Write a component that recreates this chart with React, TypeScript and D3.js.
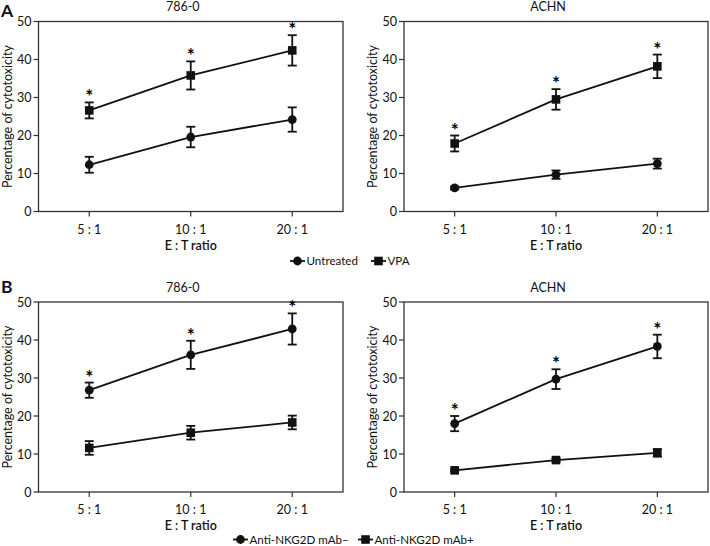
import React from "react";
import * as d3 from "d3";

const ratios = ["5 : 1", "10 : 1", "20 : 1"];
const yTicks = [0, 10, 20, 30, 40, 50];

// Panel A, 786-0
const a786Untreated = [12.3, 19.6, 24.2];
const a786UntreatedErr = [2.1, 2.7, 3.2];
const a786VPA = [26.6, 35.8, 42.4];
const a786VPAErr = [2.1, 3.7, 4.0];
// Panel A, ACHN
const aAchnUntreated = [6.2, 9.7, 12.6];
const aAchnUntreatedErr = [0.4, 1.1, 1.3];
const aAchnVPA = [17.9, 29.5, 38.2];
const aAchnVPAErr = [2.1, 2.7, 3.1];
// Panel B, 786-0
const b786Minus = [26.8, 36.1, 42.9];
const b786MinusErr = [2.0, 3.7, 4.1];
const b786Plus = [11.6, 15.6, 18.3];
const b786PlusErr = [1.8, 1.8, 1.8];
// Panel B, ACHN
const bAchnMinus = [18.0, 29.7, 38.3];
const bAchnMinusErr = [2.0, 2.6, 3.1];
const bAchnPlus = [5.7, 8.4, 10.3];
const bAchnPlusErr = [0.3, 0.4, 1.0];

const FONT = "Lato, 'Open Sans', sans-serif";
const INK = "#111";

type Series = { values: number[]; err: number[]; shape: "circle" | "square"; stars: boolean };

function Marker({ shape, x, y }: { shape: string; x: number; y: number }) {
  if (shape === "circle") return <circle cx={x} cy={y} r={4.4} fill={INK} />;
  return <rect x={x - 4.3} y={y - 4.3} width={8.6} height={8.6} fill={INK} />;
}

function Panel({ x0, x1, y0, y1, title, series }: { x0: number; x1: number; y0: number; y1: number; title: string; series: Series[] }) {
  const x = d3.scalePoint<string>().domain(ratios).range([x0, x1]).padding(0.5);
  const y = d3.scaleLinear().domain([0, 50]).range([y1, y0]);
  const line = d3
    .line<number>()
    .x((_, i) => x(ratios[i]) as number)
    .y((d) => y(d));
  return (
    <g fontFamily={FONT} fill={INK}>
      <text x={(x0 + x1) / 2 - 8} y={y0 - 10.5} fontSize={12.5} textAnchor="middle">
        {title}
      </text>
      <rect x={x0} y={y0} width={x1 - x0} height={y1 - y0} fill="none" stroke="#333" strokeWidth={1.3} />
      {yTicks.map((t) => (
        <g key={t}>
          <line x1={x0 - 5} x2={x0} y1={y(t)} y2={y(t)} stroke="#333" strokeWidth={1.2} />
          <text x={x0 - 7} y={y(t)} dy="0.36em" fontSize={12.5} textAnchor="end">
            {t}
          </text>
        </g>
      ))}
      {ratios.map((r) => (
        <g key={r}>
          <line x1={x(r)} x2={x(r)} y1={y1} y2={y1 + 5} stroke="#333" strokeWidth={1.2} />
          <text x={x(r)} y={y1 + 22} fontSize={12.5} textAnchor="middle">
            {r}
          </text>
        </g>
      ))}
      <text x={(x0 + x1) / 2} y={y1 + 38} fontSize={12.5} fontWeight={600} textAnchor="middle">
        E : T ratio
      </text>
      <text
        transform={`translate(${x0 - 27},${(y0 + y1) / 2}) rotate(-90)`}
        fontSize={12.5}
        textAnchor="middle"
      >
        Percentage of cytotoxicity
      </text>
      {series.map((s, si) => (
        <g key={si}>
          <path d={line(s.values) || ""} fill="none" stroke={INK} strokeWidth={1.8} />
          {s.values.map((v, i) => {
            const cx = x(ratios[i]) as number;
            const top = y(v + s.err[i]);
            const bot = y(v - s.err[i]);
            return (
              <g key={i}>
                <line x1={cx} x2={cx} y1={top} y2={bot} stroke={INK} strokeWidth={1.8} />
                <line x1={cx - 4.5} x2={cx + 4.5} y1={top} y2={top} stroke={INK} strokeWidth={1.8} />
                <line x1={cx - 4.5} x2={cx + 4.5} y1={bot} y2={bot} stroke={INK} strokeWidth={1.8} />
                <Marker shape={s.shape} x={cx} y={y(v)} />
                {s.stars && (
                  <text x={cx} y={top + 1} fontSize={19} fontWeight={700} textAnchor="middle" fill="#000">
                    *
                  </text>
                )}
              </g>
            );
          })}
        </g>
      ))}
    </g>
  );
}

function LegendItem({ x, y, shape, label }: { x: number; y: number; shape: string; label: string }) {
  return (
    <g fontFamily={FONT} fill={INK}>
      <line x1={x} x2={x + 15} y1={y} y2={y} stroke={INK} strokeWidth={1.8} />
      <Marker shape={shape} x={x + 7.5} y={y} />
      <text x={x + 16.5} y={y} dy="0.36em" fontSize={11.6}>
        {label}
      </text>
    </g>
  );
}

export default function App() {
  const left = [38.5, 343];
  const right = [404, 708];
  const rowA = [21.5, 211.5];
  const rowB = [302, 492];
  return (
    <svg width={710} height={546} style={{ position: "absolute", left: 0, top: 0, background: "#fff" }}>
      <rect width={710} height={546} fill="#fff" />
      <text x={1} y={16.5} fontFamily={FONT} fontSize={17.5} fontWeight={700} fill={INK}>
        A
      </text>
      <text x={1} y={293} fontFamily={FONT} fontSize={17.5} fontWeight={700} fill={INK}>
        B
      </text>
      <Panel
        x0={left[0]}
        x1={left[1]}
        y0={rowA[0]}
        y1={rowA[1]}
        title="786-0"
        series={[
          { values: a786Untreated, err: a786UntreatedErr, shape: "circle", stars: false },
          { values: a786VPA, err: a786VPAErr, shape: "square", stars: true },
        ]}
      />
      <Panel
        x0={right[0]}
        x1={right[1]}
        y0={rowA[0]}
        y1={rowA[1]}
        title="ACHN"
        series={[
          { values: aAchnUntreated, err: aAchnUntreatedErr, shape: "circle", stars: false },
          { values: aAchnVPA, err: aAchnVPAErr, shape: "square", stars: true },
        ]}
      />
      <Panel
        x0={left[0]}
        x1={left[1]}
        y0={rowB[0]}
        y1={rowB[1]}
        title="786-0"
        series={[
          { values: b786Minus, err: b786MinusErr, shape: "circle", stars: true },
          { values: b786Plus, err: b786PlusErr, shape: "square", stars: false },
        ]}
      />
      <Panel
        x0={right[0]}
        x1={right[1]}
        y0={rowB[0]}
        y1={rowB[1]}
        title="ACHN"
        series={[
          { values: bAchnMinus, err: bAchnMinusErr, shape: "circle", stars: true },
          { values: bAchnPlus, err: bAchnPlusErr, shape: "square", stars: false },
        ]}
      />
      <LegendItem x={290} y={261} shape="circle" label="Untreated" />
      <LegendItem x={371} y={261} shape="square" label="VPA" />
      <LegendItem x={233} y={539.5} shape="circle" label="Anti-NKG2D mAb–" />
      <LegendItem x={358} y={539.5} shape="square" label="Anti-NKG2D mAb+" />
    </svg>
  );
}
